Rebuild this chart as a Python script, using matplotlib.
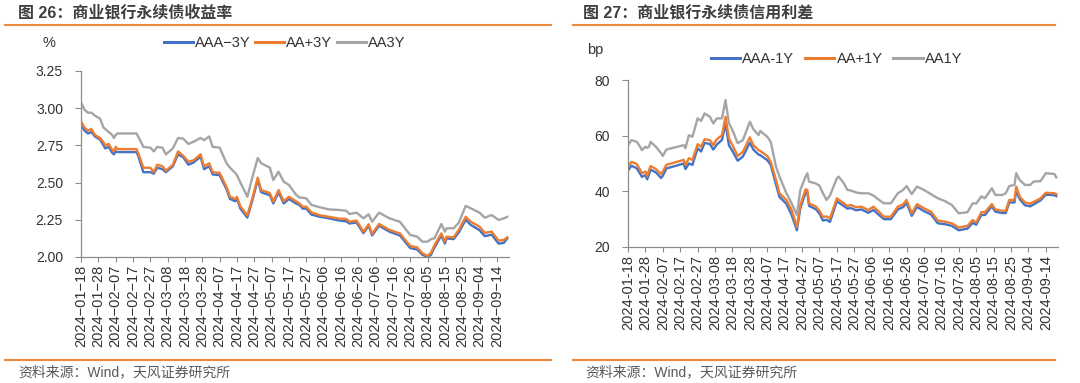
import matplotlib
matplotlib.use('Agg')
import matplotlib.pyplot as plt
import pandas as pd
from matplotlib.lines import Line2D


# 图26 商业银行永续债收益率 (%)
yield_dates = ['01-18', '01-20', '01-22', '01-24', '01-26', '01-29', '01-31', '02-01', '02-03', '02-05',
               '02-06', '02-07', '02-08', '02-19', '02-20', '02-23', '02-27', '02-29', '03-02', '03-05',
               '03-07', '03-11', '03-14', '03-17', '03-20', '03-23', '03-27', '03-29', '04-01', '04-03',
               '04-07', '04-11', '04-13', '04-16', '04-17', '04-19', '04-23', '04-26', '04-29', '05-01',
               '05-06', '05-08', '05-11', '05-14', '05-17', '05-21', '05-23', '05-25', '05-27', '05-30',
               '06-04', '06-09', '06-15', '06-19', '06-21', '06-25', '06-29', '07-02', '07-04', '07-08',
               '07-14', '07-20', '07-26', '07-30', '08-02', '08-05', '08-07', '08-09', '08-13', '08-15',
               '08-16', '08-20', '08-23', '08-27', '08-30', '09-04', '09-07', '09-11', '09-15', '09-18',
               '09-20']
yield_aaa = [2.89, 2.85, 2.83, 2.84, 2.81, 2.79, 2.75, 2.73, 2.74, 2.70,
             2.69, 2.71, 2.705, 2.705, 2.68, 2.57, 2.57, 2.56, 2.60, 2.59,
             2.57, 2.61, 2.69, 2.67, 2.62, 2.635, 2.675, 2.59, 2.61, 2.555,
             2.55, 2.455, 2.39, 2.375, 2.39, 2.325, 2.265, 2.385, 2.52, 2.435,
             2.415, 2.36, 2.435, 2.36, 2.39, 2.36, 2.35, 2.325, 2.325, 2.285,
             2.27, 2.26, 2.245, 2.24, 2.225, 2.232, 2.16, 2.21, 2.145, 2.21,
             2.17, 2.145, 2.06, 2.05, 2.015, 2.00, 2.015, 2.065, 2.145, 2.09,
             2.125, 2.12, 2.165, 2.25, 2.215, 2.18, 2.14, 2.15, 2.09, 2.095,
             2.125]
yield_aa_plus = [2.91, 2.87, 2.85, 2.86, 2.82, 2.80, 2.77, 2.75, 2.76, 2.72,
                 2.71, 2.74, 2.725, 2.725, 2.70, 2.60, 2.60, 2.57, 2.62, 2.61,
                 2.58, 2.62, 2.71, 2.68, 2.64, 2.65, 2.69, 2.61, 2.63, 2.57,
                 2.565, 2.47, 2.405, 2.39, 2.405, 2.34, 2.28, 2.40, 2.533, 2.45,
                 2.43, 2.372, 2.45, 2.375, 2.405, 2.375, 2.36, 2.338, 2.338, 2.30,
                 2.28, 2.27, 2.258, 2.256, 2.237, 2.245, 2.17, 2.22, 2.155, 2.222,
                 2.182, 2.159, 2.074, 2.065, 2.025, 2.007, 2.029, 2.08, 2.159, 2.103,
                 2.137, 2.132, 2.182, 2.27, 2.237, 2.203, 2.163, 2.17, 2.11, 2.115,
                 2.132]
yield_aa = [3.04, 2.99, 2.97, 2.97, 2.95, 2.93, 2.87, 2.86, 2.84, 2.82,
            2.80, 2.82, 2.83, 2.83, 2.81, 2.74, 2.735, 2.71, 2.74, 2.735,
            2.69, 2.73, 2.80, 2.795, 2.76, 2.775, 2.80, 2.785, 2.81, 2.74,
            2.735, 2.63, 2.60, 2.565, 2.55, 2.50, 2.405, 2.54, 2.665, 2.63,
            2.60, 2.517, 2.573, 2.506, 2.484, 2.42, 2.40, 2.398, 2.394, 2.35,
            2.334, 2.32, 2.316, 2.311, 2.289, 2.298, 2.26, 2.287, 2.237, 2.298,
            2.26, 2.237, 2.148, 2.137, 2.103, 2.103, 2.12, 2.126, 2.222, 2.17,
            2.193, 2.193, 2.23, 2.343, 2.327, 2.298, 2.264, 2.282, 2.249, 2.26,
            2.27]

# 图27 商业银行永续债信用利差 (bp)
spread_dates = ['01-18', '01-20', '01-23', '01-25', '01-26', '01-28', '01-29', '01-30', '01-31', '02-03',
                '02-06', '02-07', '02-09', '02-19', '02-20', '02-22', '02-24', '02-27', '02-29', '03-02',
                '03-05', '03-07', '03-09', '03-12', '03-14', '03-16', '03-18', '03-21', '03-24', '03-28',
                '03-30', '04-02', '04-03', '04-07', '04-09', '04-12', '04-14', '04-18', '04-21', '04-24',
                '04-26', '04-29', '04-30', '05-01', '05-05', '05-07', '05-09', '05-11', '05-13', '05-17',
                '05-18', '05-21', '05-23', '05-25', '05-28', '05-31', '06-04', '06-07', '06-10', '06-13',
                '06-17', '06-21', '06-24', '06-26', '06-29', '07-02', '07-06', '07-10', '07-14', '07-18',
                '07-22', '07-26', '07-31', '08-03', '08-05', '08-08', '08-10', '08-14', '08-16', '08-20',
                '08-22', '08-24', '08-27', '08-28', '08-30', '09-02', '09-05', '09-07', '09-11', '09-14',
                '09-19', '09-20']
spread_aaa = [47.5, 49.2, 48.3, 46.3, 45.2, 45.8, 44.3, 46.0, 47.8, 46.8,
              44.8, 45.6, 48.2, 50.0, 48.0, 50.0, 49.5, 55.5, 54.3, 57.4,
              57.0, 55.0, 56.8, 58.5, 64.4, 56.5, 54.5, 51.0, 52.5, 57.5,
              55.0, 53.2, 53.0, 51.2, 49.5, 42.5, 38.0, 35.5, 31.5, 26.0,
              34.0, 39.5, 39.8, 34.8, 33.5, 32.0, 29.5, 29.8, 29.0, 36.5,
              36.0, 34.7, 33.8, 34.0, 33.2, 33.5, 32.3, 33.3, 31.6, 30.0,
              30.0, 33.5, 34.3, 35.8, 31.2, 34.4, 32.9, 31.7, 28.5, 28.2,
              27.6, 26.0, 26.6, 28.7, 28.0, 31.5, 31.5, 34.6, 32.7, 32.2,
              32.2, 36.0, 36.0, 40.2, 37.2, 35.0, 34.6, 35.3, 36.8, 38.8,
              38.6, 38.3]
spread_aa_plus = [48.9, 50.6, 49.8, 47.7, 46.5, 47.1, 45.5, 47.5, 49.1, 48.0,
                  46.2, 47.1, 49.5, 51.3, 49.5, 51.9, 51.3, 56.9, 56.0, 58.7,
                  58.4, 56.6, 58.7, 60.2, 66.8, 59.0, 56.6, 52.7, 54.2, 59.4,
                  56.6, 54.8, 54.5, 52.7, 50.6, 44.1, 39.3, 36.9, 33.3, 27.2,
                  35.1, 40.7, 40.5, 35.7, 34.5, 33.0, 30.8, 31.0, 30.3, 37.5,
                  37.0, 35.7, 34.7, 35.1, 34.3, 34.5, 33.3, 34.5, 32.7, 30.9,
                  30.9, 34.5, 35.3, 36.9, 32.1, 35.4, 33.9, 32.7, 29.5, 29.1,
                  28.5, 27.0, 27.6, 29.7, 28.8, 32.5, 32.5, 35.4, 33.5, 33.0,
                  33.0, 36.9, 36.9, 41.7, 38.1, 36.0, 35.6, 36.2, 37.5, 39.5,
                  39.3, 39.0]
spread_aa = [56.6, 58.4, 57.8, 56.0, 54.8, 56.0, 55.6, 56.0, 57.8, 56.0,
             53.7, 52.7, 55.0, 56.6, 55.5, 60.2, 59.6, 66.2, 65.3, 68.0,
             66.8, 64.4, 66.2, 66.2, 72.8, 64.4, 62.0, 57.3, 58.4, 65.0,
             62.3, 60.2, 61.7, 59.6, 57.8, 48.9, 45.3, 39.3, 35.7, 31.5,
             40.5, 45.3, 46.5, 43.5, 42.8, 42.0, 39.3, 36.9, 38.5, 44.7,
             45.3, 42.9, 40.5, 40.3, 39.6, 39.3, 39.3, 38.5, 37.0, 35.7,
             35.7, 39.3, 40.5, 41.9, 39.0, 41.7, 40.5, 39.0, 37.5, 36.5,
             35.1, 32.1, 32.5, 35.7, 35.6, 38.2, 37.5, 41.1, 38.7, 38.7,
             39.3, 41.9, 42.3, 46.5, 44.1, 42.3, 42.3, 43.5, 43.7, 46.5,
             46.2, 45.0]

yield_labels = ['AAA\u22123Y', 'AA+3Y', 'AA3Y']
spread_labels = ['AAA-1Y', 'AA+1Y', 'AA1Y']

BLUE = '#4472C4'
ORANGE = '#ED7D31'
GRAY = '#A5A5A5'
RULE = '#EE8A3A'
SPINE = '#8C8C8C'
TEXT = '#333333'

W, H = 1080, 383


def box(left, top, right, bottom):
    # pixel box -> figure fraction
    return [left / W, 1 - bottom / H, (right - left) / W, (bottom - top) / H]


def to_dates(md):
    return pd.to_datetime(['2024-' + s for s in md])


def draw_panel(ax, dates, series, labels, ylim, yticks, yfmt, sep, legend_xy, colspace):
    x = to_dates(dates)
    colors = [BLUE, ORANGE, GRAY]
    for vals, c in zip(series, colors):
        ax.plot(x, vals, color=c, lw=1.7, solid_joinstyle='round')
    ax.set_xlim(pd.Timestamp('2024-01-18'), pd.Timestamp('2024-09-21'))
    ax.set_ylim(*ylim)
    ax.set_yticks(yticks)
    ax.set_yticklabels([yfmt.format(v) for v in yticks])
    ticks = pd.date_range('2024-01-18', '2024-09-14', freq='10D')
    ax.set_xticks(ticks)
    ax.set_xticklabels([t.strftime('%Y-%m-%d').replace('-', sep) for t in ticks])
    for s in ['top', 'right']:
        ax.spines[s].set_visible(False)
    for s in ['left', 'bottom']:
        ax.spines[s].set_color(SPINE)
        ax.spines[s].set_linewidth(0.9)
    ax.tick_params(axis='x', length=3.5, width=0.8, color=SPINE, labelsize=10.5,
                   labelrotation=90, pad=2, labelcolor=TEXT)
    ax.tick_params(axis='y', length=4, width=0.8, color=SPINE, labelsize=10,
                   pad=9, labelcolor=TEXT)
    handles = [Line2D([], [], color=c, lw=2.2) for c in colors]
    ax.legend(handles, labels, ncol=3, loc='center', bbox_to_anchor=legend_xy,
              bbox_transform=ax.figure.transFigure, frameon=False, fontsize=10.5,
              handlelength=2.0, handletextpad=0.15, columnspacing=colspace,
              borderpad=0, borderaxespad=0, labelcolor=TEXT)


def main():
    plt.rcParams['font.family'] = ['Liberation Sans', 'Noto Sans CJK SC', 'DejaVu Sans']
    fig = plt.figure(figsize=(W / 100, H / 100), dpi=100)

    ax1 = fig.add_axes(box(81, 71, 509, 257))
    draw_panel(ax1, yield_dates, [yield_aaa, yield_aa_plus, yield_aa], yield_labels,
               (2.0, 3.25), [2.0, 2.25, 2.5, 2.75, 3.0, 3.25], '{:.2f}', '\u2212',
               (284.5 / W, 1 - 43 / H), 0.3)

    ax2 = fig.add_axes(box(628, 80, 1058, 247))
    draw_panel(ax2, spread_dates, [spread_aaa, spread_aa_plus, spread_aa], spread_labels,
               (20, 80), [20, 40, 60, 80], '{:.0f}', '-',
               (836.5 / W, 1 - 59 / H), 0.75)

    # unit labels
    fig.text(49 / W, 1 - 43 / H, '%', fontsize=10.5, color=TEXT, ha='center', va='center')
    fig.text(587 / W, 1 - 50 / H, 'bp', fontsize=10.5, color=TEXT, ha='left', va='center')

    # titles, rules and source notes
    fig.text(18 / W, 1 - 13 / H, '图 26：商业银行永续债收益率', fontsize=11.5,
             fontweight='bold', color='#3F3F3F', ha='left', va='center')
    fig.text(583 / W, 1 - 13 / H, '图 27：商业银行永续债信用利差', fontsize=11.5,
             fontweight='bold', color='#3F3F3F', ha='left', va='center')
    for x0, x1 in [(5, 551), (573, 1055)]:
        for y in [25, 360]:
            fig.add_artist(Line2D([x0 / W, x1 / W], [1 - y / H, 1 - y / H],
                                  color=RULE, lw=1.5))
    fig.text(18 / W, 1 - 372 / H, '资料来源：Wind，天风证券研究所', fontsize=10,
             color='#595959', ha='left', va='center')
    fig.text(585 / W, 1 - 372 / H, '资料来源：Wind，天风证券研究所', fontsize=10,
             color='#595959', ha='left', va='center')

    fig.savefig('out.png', dpi=100, facecolor='white')


if __name__ == '__main__':
    main()
